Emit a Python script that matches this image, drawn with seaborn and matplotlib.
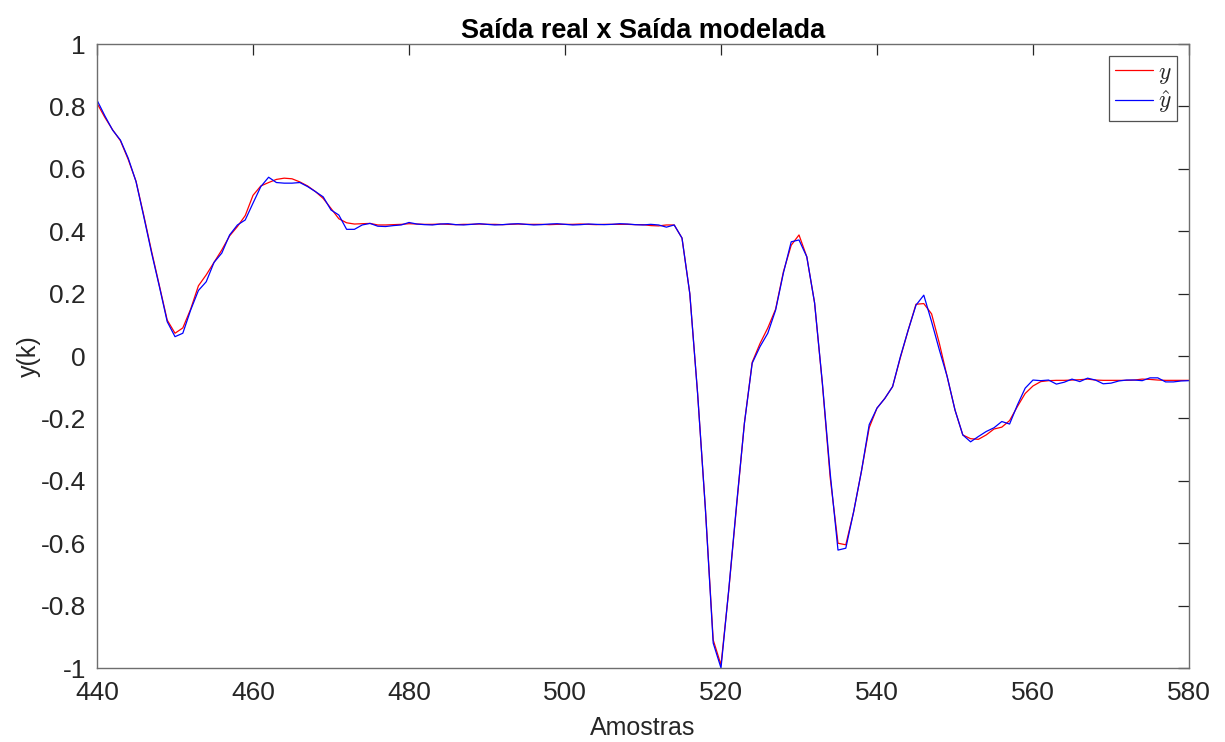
import numpy as np
import pandas as pd
import matplotlib
matplotlib.use("Agg")
import matplotlib.pyplot as plt
from matplotlib.ticker import FuncFormatter
import seaborn as sns

# Sample indices shown on the horizontal axis
amostras = list(range(440, 581))

# Measured output y(k)
saida_real = [
    0.81, 0.765, 0.725, 0.69, 0.63, 0.56, 0.45, 0.335, 0.225, 0.115,
    0.073, 0.09, 0.15, 0.225, 0.26, 0.30, 0.34, 0.385, 0.415, 0.45,
    0.515, 0.545, 0.556, 0.566, 0.57, 0.568, 0.558, 0.545, 0.527, 0.505,
    0.473, 0.44, 0.427, 0.423, 0.424, 0.425, 0.42, 0.42, 0.421, 0.422,
    0.424, 0.423, 0.422, 0.422, 0.423, 0.422, 0.421, 0.422, 0.422, 0.423,
    0.422, 0.422, 0.421, 0.422, 0.423, 0.422, 0.422, 0.422, 0.421, 0.422,
    0.422, 0.422, 0.423, 0.422, 0.421, 0.422, 0.422, 0.422, 0.422, 0.421,
    0.421, 0.418, 0.417, 0.42, 0.42, 0.378, 0.20, -0.12, -0.49, -0.91,
    -0.99, -0.75, -0.48, -0.215, -0.02, 0.04, 0.09, 0.15, 0.27, 0.355,
    0.388, 0.318, 0.17, -0.09, -0.39, -0.60, -0.605, -0.50, -0.37, -0.23,
    -0.167, -0.136, -0.098, -0.005, 0.083, 0.166, 0.168, 0.135, 0.04, -0.066,
    -0.173, -0.253, -0.265, -0.267, -0.253, -0.234, -0.228, -0.207, -0.162, -0.12,
    -0.096, -0.082, -0.079, -0.078, -0.078, -0.077, -0.076, -0.074, -0.077, -0.078,
    -0.078, -0.078, -0.078, -0.077, -0.074, -0.075, -0.077, -0.078, -0.078, -0.078,
    -0.078,
]

# Model output y_hat(k)
saida_modelada = [
    0.82, 0.77, 0.724, 0.692, 0.634, 0.559, 0.446, 0.33, 0.222, 0.11,
    0.062, 0.073, 0.147, 0.21, 0.238, 0.30, 0.33, 0.388, 0.42, 0.436,
    0.49, 0.543, 0.573, 0.556, 0.554, 0.554, 0.556, 0.543, 0.527, 0.51,
    0.468, 0.452, 0.406, 0.406, 0.42, 0.425, 0.416, 0.415, 0.418, 0.42,
    0.428, 0.423, 0.421, 0.42, 0.423, 0.424, 0.421, 0.42, 0.422, 0.424,
    0.422, 0.42, 0.421, 0.423, 0.424, 0.422, 0.42, 0.421, 0.423, 0.424,
    0.422, 0.42, 0.421, 0.423, 0.422, 0.421, 0.422, 0.424, 0.423, 0.421,
    0.42, 0.422, 0.42, 0.413, 0.42, 0.378, 0.20, -0.12, -0.49, -0.92,
    -1.0, -0.747, -0.475, -0.216, -0.023, 0.03, 0.073, 0.147, 0.266, 0.366,
    0.372, 0.318, 0.17, -0.087, -0.376, -0.622, -0.616, -0.50, -0.37, -0.22,
    -0.167, -0.136, -0.098, -0.002, 0.083, 0.163, 0.195, 0.11, 0.019, -0.066,
    -0.173, -0.253, -0.275, -0.258, -0.242, -0.23, -0.21, -0.218, -0.157, -0.103,
    -0.077, -0.079, -0.077, -0.09, -0.084, -0.074, -0.082, -0.071, -0.077, -0.089,
    -0.087, -0.08, -0.077, -0.077, -0.079, -0.07, -0.07, -0.083, -0.083, -0.08,
    -0.079,
]

x_ticks = [440, 460, 480, 500, 520, 540, 560, 580]
y_ticks = [-1, -0.8, -0.6, -0.4, -0.2, 0, 0.2, 0.4, 0.6, 0.8, 1]

sns.set_theme(style="white")
plt.rcParams["font.family"] = ["Liberation Sans", "DejaVu Sans"]
plt.rcParams["mathtext.fontset"] = "cm"

df = pd.DataFrame({"k": amostras, "y": saida_real, "yhat": saida_modelada})

fig = plt.figure(figsize=(12.25, 7.42), dpi=100)
ax = fig.add_axes([0.0792, 0.0997, 0.8914, 0.8410])

sns.lineplot(data=df, x="k", y="y", ax=ax, color="#ff0000", lw=0.9,
             label=r"$y$", estimator=None, sort=False)
sns.lineplot(data=df, x="k", y="yhat", ax=ax, color="#0000ff", lw=0.9,
             label=r"$\hat{y}$", estimator=None, sort=False)

ax.set_xlim(440, 580)
ax.set_ylim(-1, 1)
ax.set_xticks(x_ticks)
ax.set_yticks(y_ticks)
ax.yaxis.set_major_formatter(FuncFormatter(lambda v, p: "%g" % round(v, 2)))

tick_col = "#262626"
for s in ax.spines.values():
    s.set_visible(True)
    s.set_color("#6e6e6e")
    s.set_linewidth(1.0)
ax.tick_params(axis="both", which="major", direction="in", length=8,
               width=0.9, colors=tick_col, labelsize=19,
               top=True, right=True, labeltop=False, labelright=False)
ax.tick_params(axis="x", pad=9)
ax.tick_params(axis="y", pad=8)

ax.set_xlabel("Amostras", fontsize=18, color=tick_col, labelpad=8)
ax.set_ylabel("y(k)", fontsize=18, color=tick_col, labelpad=0)
ax.set_title("Saída real x Saída modelada", fontsize=19.5, fontweight="bold",
             color="black", pad=4)

leg = ax.legend(loc="upper right", fontsize=17, handlelength=1.6,
                handletextpad=0.2, borderpad=0.25, labelspacing=0.1,
                frameon=True, fancybox=False, borderaxespad=0.5)
leg.get_frame().set_edgecolor("#262626")
leg.get_frame().set_linewidth(0.9)
for line in leg.get_lines():
    line.set_linewidth(0.9)

fig.savefig("out.png", dpi=100, facecolor="white")
